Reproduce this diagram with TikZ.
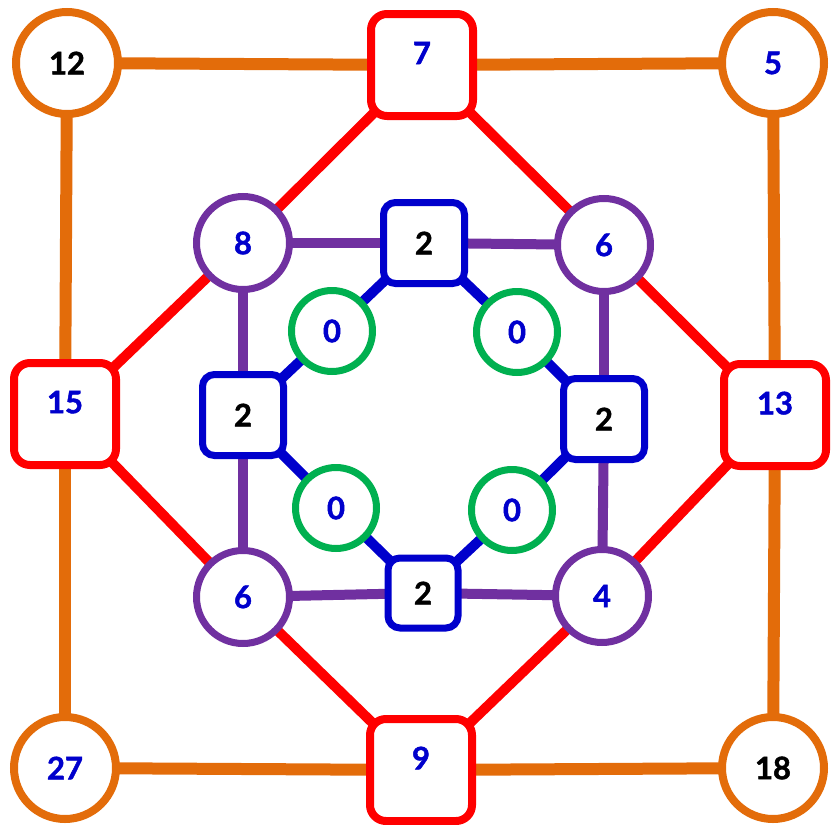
\documentclass[tikz,border=0pt]{standalone}
\usepackage{fontspec}
\setmainfont{Lato}[BoldFeatures={FakeBold=1.5}]
\usetikzlibrary{backgrounds}
\definecolor{orng}{RGB}{227,108,10}
\definecolor{rd}{RGB}{255,0,0}
\definecolor{prp}{RGB}{112,48,160}
\definecolor{blu}{RGB}{0,0,204}
\definecolor{grn}{RGB}{0,176,80}
\tikzset{
  num/.style={font=\fontsize{31}{36}\selectfont\bfseries, inner sep=0pt, fill=white},
  orc/.style={num, circle, draw=orng, line width=8pt, minimum size=102pt},
  rsq/.style={num, rectangle, draw=rd, line width=8pt, minimum size=102pt, rounded corners=16pt},
  pcirc/.style={num, circle, draw=prp, line width=7pt, minimum size=93pt},
  bsq/.style={num, rectangle, draw=blu, line width=7pt, minimum size=81pt, rounded corners=12pt},
  gcirc/.style={num, circle, draw=grn, line width=7pt, minimum size=81pt},
  ol/.style={draw=orng, line width=12pt},
  rl/.style={draw=rd, line width=10pt},
  pl/.style={draw=prp, line width=10pt},
  bl/.style={draw=blu, line width=10pt},
}
\begin{document}
\begin{tikzpicture}[x=1pt,y=-1pt]
\useasboundingbox (0,0) rectangle (836,825);
% orange circles
\node[orc] (c12) at (67,63) {12};
\node[orc, text=blu] (c5) at (773,63) {5};
\node[orc, text=blu] (c27) at (65,768) {27};
\node[orc] (c18) at (773,768) {18};
% red squares
\node[rsq, text=blu] (s7) at (422,65) {\raisebox{24pt}{7}};
\node[rsq, text=blu] (s15) at (65,414) {\raisebox{24pt}{15}};
\node[rsq, text=blu] (s13) at (775,415) {\raisebox{24pt}{13}};
\node[rsq, text=blu] (s9) at (421,770) {\raisebox{24pt}{9}};
% purple circles
\node[pcirc, text=blu] (p8) at (243,243) {8};
\node[pcirc, text=blu] (p6a) at (604,245) {6};
\node[pcirc, text=blu] (p6b) at (243,597) {6};
\node[pcirc, text=blu] (p4) at (602,596) {4};
% blue squares
\node[bsq] (bt) at (424,243) {2};
\node[bsq] (bL) at (243,415) {2};
\node[bsq] (bR) at (604,419) {2};
\node[bsq, minimum size=70pt] (bb) at (423,593) {2};
% green circles
\node[gcirc, text=blu] (gtl) at (332,331) {0};
\node[gcirc, text=blu] (gtr) at (517,332) {0};
\node[gcirc, text=blu] (gbl) at (336,508) {0};
\node[gcirc, text=blu] (gbr) at (512,510) {0};
\begin{pgfonlayer}{background}
% orange
\draw[ol] (c12.center) -- (s7.center);
\draw[ol] (s7.center) -- (c5.center);
\draw[ol] (c12.center) -- (s15.center);
\draw[ol] (c5.center) -- (s13.center);
\draw[ol] (s15.center) -- (c27.center);
\draw[ol] (s13.center) -- (c18.center);
\draw[ol] (c27.center) -- (s9.center);
\draw[ol] (s9.center) -- (c18.center);
% red
\draw[rl] (s7.center) -- (p8.center);
\draw[rl] (s7.center) -- (p6a.center);
\draw[rl] (p8.center) -- (s15.center);
\draw[rl] (p6a.center) -- (s13.center);
\draw[rl] (s15.center) -- (p6b.center);
\draw[rl] (s13.center) -- (p4.center);
\draw[rl] (p6b.center) -- (s9.center);
\draw[rl] (p4.center) -- (s9.center);
% purple
\draw[pl] (p8.center) -- (bt.center);
\draw[pl] (bt.center) -- (p6a.center);
\draw[pl] (p8.center) -- (bL.center);
\draw[pl] (p6a.center) -- (bR.center);
\draw[pl] (bL.center) -- (p6b.center);
\draw[pl] (bR.center) -- (p4.center);
\draw[pl] (p6b.center) -- (bb.center);
\draw[pl] (bb.center) -- (p4.center);
% blue
\draw[bl] (bt.center) -- (gtl.center);
\draw[bl] (bt.center) -- (gtr.center);
\draw[bl] (gtl.center) -- (bL.center);
\draw[bl] (gtr.center) -- (bR.center);
\draw[bl] (bL.center) -- (gbl.center);
\draw[bl] (bR.center) -- (gbr.center);
\draw[bl] (gbl.center) -- (bb.center);
\draw[bl] (gbr.center) -- (bb.center);
\end{pgfonlayer}
\end{tikzpicture}
\end{document}
